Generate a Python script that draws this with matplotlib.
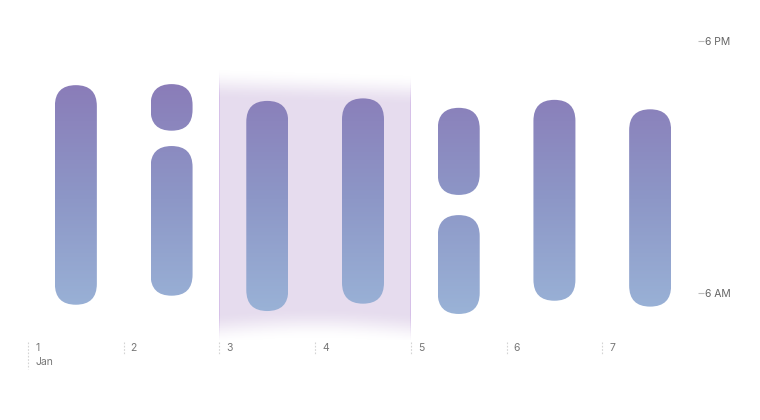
import numpy as np
import matplotlib
matplotlib.use("Agg")
import matplotlib.pyplot as plt
from matplotlib.patches import FancyBboxPatch
from matplotlib.colors import LinearSegmentedColormap

plt.rcParams['font.family'] = ['Inter', 'DejaVu Sans']

day_labels = ['1', '2', '3', '4', '5', '6', '7']
month_label = 'Jan'
# one entry per sleep block: day index (0 = Jan 1), hour at top, hour at bottom
block_day = [0, 1, 1, 2, 3, 4, 4, 5, 6]
block_top = [15.9, 15.95, 13.0, 15.15, 15.27, 14.82, 9.71, 15.2, 14.75]
block_bottom = [5.44, 13.73, 5.87, 5.14, 5.49, 10.67, 5.0, 5.63, 5.35]
highlight_days = (2, 4)
y_ticks = [6, 18]
y_tick_labels = ['6 AM', '6 PM']

fig = plt.figure(figsize=(7.6, 4.2), dpi=100)
ax = fig.add_axes([28 / 760, 80 / 420, 670 / 760, 330 / 420])
ax.set_xlim(0, 7)
ax.set_ylim(3.76, 19.48)

# pixels per unit, to get round caps
px_day = 670 / 7
px_hour = 330 / (19.48 - 3.76)
bar_w = 42 / px_day
aspect = px_day / px_hour

# highlighted range (blurry top / bottom edges, thin edge lines)
x0, x1 = highlight_days
nx = int(round((x1 - x0) * px_day))
ny = 400
ylo, yhi = 3.5, 17.0
xs = np.linspace(0, 1, nx)
ys = np.linspace(ylo, yhi, ny)
top_mid = 15.95 - 0.3 * xs
bot_mid = 4.3 + 0.25 * np.sin(np.pi * xs)
fade = 0.75
X_top = np.clip((top_mid[None, :] - ys[:, None]) / fade * 0.5 + 0.5, 0, 1)
X_bot = np.clip((ys[:, None] - bot_mid[None, :]) / fade * 0.5 + 0.5, 0, 1)
alpha = (X_top ** 2 * (3 - 2 * X_top)) * (X_bot ** 2 * (3 - 2 * X_bot))
rgba = np.zeros((ny, nx, 4))
rgba[..., 0] = 230 / 255
rgba[..., 1] = 220 / 255
rgba[..., 2] = 238 / 255
for col in (0, nx - 1):
    rgba[:, col, :3] = np.array([214, 192, 232]) / 255
rgba[..., 3] = alpha
ax.imshow(rgba, extent=[x0, x1, ylo, yhi], origin='lower', aspect='auto',
          interpolation='nearest', zorder=1)

cmap = LinearSegmentedColormap.from_list('sleep', ['#9ab3d7', '#8d97c7', '#8a7cb8'])
grad = np.linspace(0, 1, 256).reshape(-1, 1)

for d, top, bot in zip(block_day, block_top, block_bottom):
    cx = d + 0.5
    patch = FancyBboxPatch((cx - bar_w / 2, bot), bar_w, top - bot,
                           boxstyle=f"round,pad=0,rounding_size={bar_w / 2}",
                           mutation_aspect=aspect, fc='none', ec='none', zorder=2)
    ax.add_patch(patch)
    im = ax.imshow(grad, extent=[cx - bar_w / 2, cx + bar_w / 2, 4.9, 16.0],
                   origin='lower', aspect='auto', cmap=cmap, zorder=2)
    im.set_clip_path(patch)

# x ticks: dashed marks at the start of each day
for i, lab in enumerate(day_labels):
    y_end = 2.4 if i == 0 else 3.1
    ax.plot([i, i], [3.67, y_end], ls=(0, (1.5, 1.5)), color='#d4d4d4', lw=0.8,
            clip_on=False)
    ax.text(i + 7 / px_day, 3.38, lab, fontsize=7.5, color='#777777',
            va='center', ha='left')
ax.text(7 / px_day, 2.71, month_label, fontsize=7.5, color='#777777',
        va='center', ha='left')

ax.yaxis.tick_right()
ax.set_yticks(y_ticks)
ax.set_yticklabels(y_tick_labels)
ax.tick_params(axis='y', length=4, width=0.8, color='#bbbbbb', labelcolor='#666666',
               labelsize=7.5, pad=1)
ax.set_xticks([])
for s in ax.spines.values():
    s.set_visible(False)

fig.savefig('out.png', dpi=100)
